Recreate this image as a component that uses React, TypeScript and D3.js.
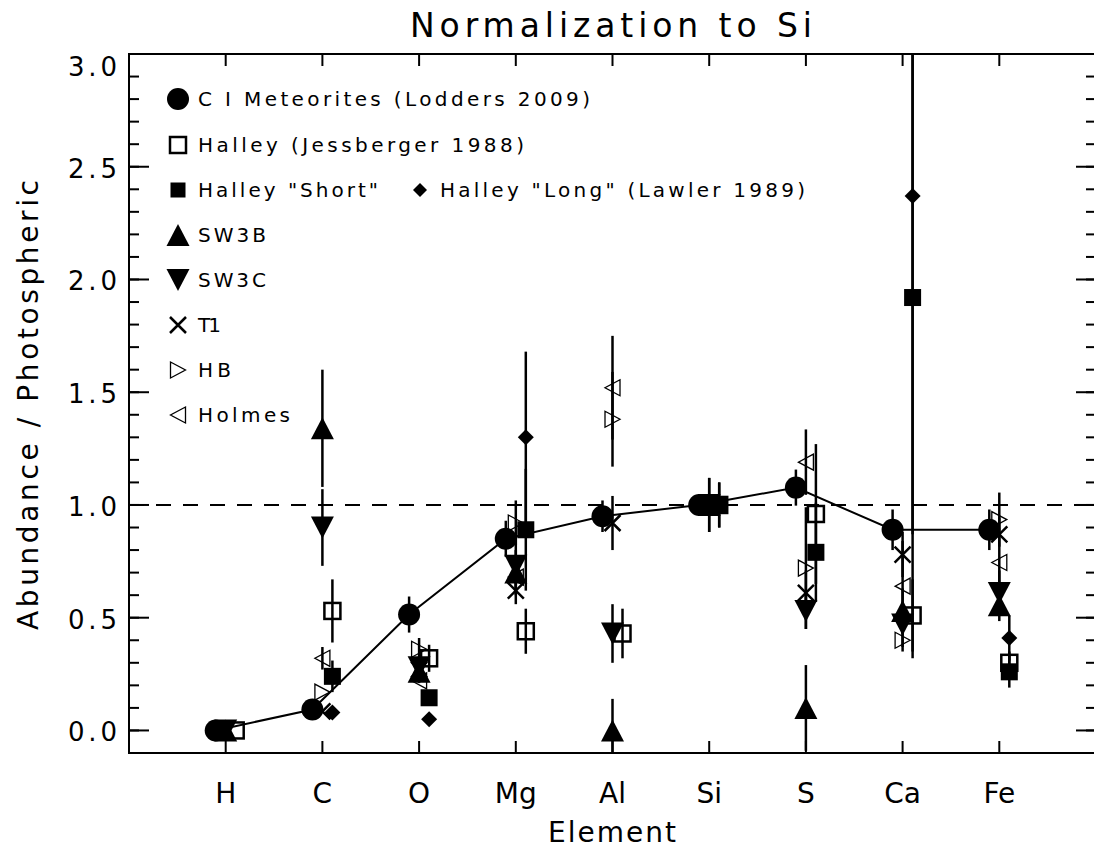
import React from 'react';
import * as d3 from 'd3';

const elements = ["H", "C", "O", "Mg", "Al", "Si", "S", "Ca", "Fe"];
const yTickValues = [0, 0.5, 1.0, 1.5, 2.0, 2.5, 3.0];
const yTickLabels = ["0.0", "0.5", "1.0", "1.5", "2.0", "2.5", "3.0"];

// values per element (H..Fe), null = not plotted
const ciVal = [0.0, 0.093, 0.514, 0.85, 0.95, 1.0, 1.077, 0.89, 0.89];
const ciErr = [0, 0, 0.08, 0.08, 0.07, 0, 0.08, 0.09, 0.09];
const jessVal = [0.0, 0.53, 0.32, 0.44, 0.43, 1.0, 0.96, 0.51, 0.30];
const jessErr = [0, 0.14, 0.06, 0.1, 0.11, 0.1, 0.31, 0.16, 0.05];
const shortVal = [null, 0.24, 0.145, 0.89, null, 1.0, 0.79, 1.92, 0.26];
const shortErr = [0, 0.07, 0.03, 0.27, 0, 0.1, 0.22, 1.6, 0.07];
const longVal = [null, 0.08, 0.05, 1.30, null, 1.0, null, 2.37, 0.41];
const longErr = [0, 0, 0, 0.38, 0, 0, 0, 1.5, 0.1];
const sw3bVal = [0.0, 1.34, 0.26, 0.70, 0.0, 1.0, 0.10, 0.53, 0.555];
const sw3bErr = [0, 0.26, 0.05, 0.1, 0.14, 0.12, 0.19, 0.1, 0.07];
const sw3cVal = [0.0, 0.90, 0.28, 0.73, 0.43, 1.0, 0.53, 0.47, 0.61];
const sw3cErr = [0, 0.17, 0.05, 0.12, 0.13, 0.12, 0.08, 0.1, 0.1];
const t1Val = [null, 0.085, 0.27, 0.62, 0.92, 1.0, 0.61, 0.78, 0.87];
const t1Err = [0, 0, 0.05, 0.06, 0.12, 0, 0.1, 0.1, 0];
const hbVal = [null, 0.17, 0.36, 0.92, 1.38, 1.0, 0.72, 0.40, 0.935];
const hbErr = [0, 0, 0.05, 0.1, 0.21, 0, 0.27, 0.05, 0.12];
const holmesVal = [null, 0.32, 0.22, 0.68, 1.52, 1.0, 1.19, 0.64, 0.745];
const holmesErr = [0, 0.05, 0, 0, 0.23, 0, 0.145, 0.2, 0.2];

const legendLabels = [
  "C I Meteorites (Lodders 2009)",
  "Halley (Jessberger 1988)",
  "Halley \"Short\"",
  "SW3B",
  "SW3C",
  "T1",
  "HB",
  "Holmes",
];
const legendLongLabel = "Halley \"Long\" (Lawler 1989)";

type Sym = 'circle' | 'osquare' | 'fsquare' | 'diamond' | 'up' | 'down' | 'x' | 'right' | 'left';

const series: { vals: (number | null)[]; errs: number[]; dx: number; sym: Sym }[] = [
  { vals: ciVal, errs: ciErr, dx: -10, sym: 'circle' },
  { vals: jessVal, errs: jessErr, dx: 10, sym: 'osquare' },
  { vals: shortVal, errs: shortErr, dx: 10, sym: 'fsquare' },
  { vals: longVal, errs: longErr, dx: 10, sym: 'diamond' },
  { vals: sw3bVal, errs: sw3bErr, dx: 0, sym: 'up' },
  { vals: sw3cVal, errs: sw3cErr, dx: 0, sym: 'down' },
  { vals: t1Val, errs: t1Err, dx: 0, sym: 'x' },
  { vals: hbVal, errs: hbErr, dx: 0, sym: 'right' },
  { vals: holmesVal, errs: holmesErr, dx: 0, sym: 'left' },
];

const FONT = "'DejaVu Sans', sans-serif";

function Marker({ sym, cx, cy, legend }: { sym: Sym; cx: number; cy: number; legend?: boolean }) {
  switch (sym) {
    case 'circle':
      return <circle cx={cx} cy={cy} r={11} fill="#000" />;
    case 'osquare': {
      const s = 16;
      return <rect x={cx - s / 2} y={cy - s / 2} width={s} height={s} fill="none" stroke="#000" strokeWidth={2.5} />;
    }
    case 'fsquare': {
      const s = legend ? 15 : 17;
      return <rect x={cx - s / 2} y={cy - s / 2} width={s} height={s} fill="#000" />;
    }
    case 'diamond': {
      const h = legend ? 7 : 8;
      return <path d={`M${cx - h},${cy}L${cx},${cy - h}L${cx + h},${cy}L${cx},${cy + h}Z`} fill="#000" />;
    }
    case 'up': {
      const w = 11.5, h = 11;
      return <path d={`M${cx - w},${cy + h}L${cx + w},${cy + h}L${cx},${cy - h}Z`} fill="#000" />;
    }
    case 'down': {
      const w = 11.5, h = 11;
      return <path d={`M${cx - w},${cy - h}L${cx + w},${cy - h}L${cx},${cy + h}Z`} fill="#000" />;
    }
    case 'x': {
      const h = 8;
      return <path d={`M${cx - h},${cy - h}L${cx + h},${cy + h}M${cx - h},${cy + h}L${cx + h},${cy - h}`} stroke="#000" strokeWidth={2.5} fill="none" />;
    }
    case 'right': {
      const w = 7.5, h = 8;
      return <path d={`M${cx - w},${cy - h}L${cx + w},${cy}L${cx - w},${cy + h}Z`} stroke="#000" strokeWidth={1.3} fill="none" />;
    }
    case 'left': {
      const w = 7.5, h = 8;
      return <path d={`M${cx + w},${cy - h}L${cx - w},${cy}L${cx + w},${cy + h}Z`} stroke="#000" strokeWidth={1.3} fill="none" />;
    }
  }
  return null;
}

export default function App() {
  const W = 1094, H = 850;
  const x = d3.scaleLinear().domain([0, 10]).range([129, 1096]);
  const y = d3.scaleLinear().domain([-0.1, 3.0]).range([753, 54]);
  const [x0, x1] = x.range();
  const [yb, yt] = y.range();

  const minorY = d3.range(0, 31).map((i) => i / 10);
  const elemIdx = elements.map((_, i) => i + 1);

  const ciLine = d3.line<number>()
    .x((_, i) => x(i + 1) - 10)
    .y((d) => y(d))(ciVal) || '';

  const legendSyms: Sym[] = ['circle', 'osquare', 'fsquare', 'up', 'down', 'x', 'right', 'left'];
  const legendY = [99, 145, 190, 235, 280, 325, 370, 415];
  const legendW = [392, 326, 180, 68, 68, 23, 33, 92];

  return (
    <svg width={W} height={H} style={{ position: 'absolute', left: 0, top: 0, background: '#fff' }} fontFamily={FONT}>
      <rect x={0} y={0} width={W} height={H} fill="#fff" />
      <defs>
        <clipPath id="plotClip">
          <rect x={x0} y={yt} width={x1 - x0} height={yb - yt} />
        </clipPath>
      </defs>

      {/* title */}
      <text x={611} y={37} textAnchor="middle" fontSize={33} textLength={402} lengthAdjust="spacing">Normalization to Si</text>

      {/* frame */}
      <rect x={x0} y={yt} width={x1 - x0} height={yb - yt} fill="none" stroke="#000" strokeWidth={2} />

      {/* y ticks */}
      {minorY.map((v) => (
        <g key={'m' + v}>
          <line x1={x0} x2={x0 + 10} y1={y(v)} y2={y(v)} stroke="#000" strokeWidth={2} />
          <line x1={x1} x2={x1 - 10} y1={y(v)} y2={y(v)} stroke="#000" strokeWidth={2} />
        </g>
      ))}
      {yTickValues.map((v, i) => (
        <g key={'M' + v}>
          <line x1={x0} x2={x0 + 20} y1={y(v)} y2={y(v)} stroke="#000" strokeWidth={2} />
          <line x1={x1} x2={x1 - 20} y1={y(v)} y2={y(v)} stroke="#000" strokeWidth={2} />
          <text x={117} y={Math.max(y(v) + 11, 76)} textAnchor="end" fontSize={26} textLength={49} lengthAdjust="spacing">{yTickLabels[i]}</text>
        </g>
      ))}

      {/* x ticks */}
      {elemIdx.map((k, i) => (
        <g key={'x' + k}>
          <line x1={x(k)} x2={x(k)} y1={yb} y2={yb - 12} stroke="#000" strokeWidth={2} />
          <line x1={x(k)} x2={x(k)} y1={yt} y2={yt + 12} stroke="#000" strokeWidth={2} />
          <text x={x(k)} y={803} textAnchor="middle" fontSize={28}>{elements[i]}</text>
        </g>
      ))}

      {/* axis titles */}
      <text x={612} y={842} textAnchor="middle" fontSize={28} textLength={128} lengthAdjust="spacing">Element</text>
      <text transform={`translate(38,405) rotate(-90)`} textAnchor="middle" fontSize={28} textLength={450} lengthAdjust="spacing">Abundance / Photospheric</text>

      <g clipPath="url(#plotClip)">
        {/* reference line */}
        <line x1={x0} x2={x1} y1={y(1)} y2={y(1)} stroke="#000" strokeWidth={2} strokeDasharray="15,12" />
        {/* CI connecting line */}
        <path d={ciLine} fill="none" stroke="#000" strokeWidth={2} />
        {/* error bars */}
        {series.map((s, si) =>
          s.vals.map((v, i) =>
            v === null || !s.errs[i] ? null : (
              <line key={`e${si}-${i}`} x1={x(i + 1) + s.dx} x2={x(i + 1) + s.dx} y1={y(v + s.errs[i])} y2={y(v - s.errs[i])} stroke="#000" strokeWidth={2.5} />
            )
          )
        )}
        {/* markers */}
        {series.map((s, si) =>
          s.vals.map((v, i) =>
            v === null ? null : <Marker key={`p${si}-${i}`} sym={s.sym} cx={x(i + 1) + s.dx} cy={y(v)} />
          )
        )}
      </g>

      {/* legend */}
      {legendLabels.map((lab, i) => (
        <g key={'l' + i}>
          <Marker sym={legendSyms[i]} cx={178} cy={legendY[i]} legend />
          <text x={198} y={legendY[i] + 7} fontSize={20} textLength={legendW[i]} lengthAdjust="spacing">{lab}</text>
        </g>
      ))}
      <Marker sym="diamond" cx={420} cy={legendY[2]} legend />
      <text x={440} y={legendY[2] + 7} fontSize={20} textLength={365} lengthAdjust="spacing">{legendLongLabel}</text>
    </svg>
  );
}
